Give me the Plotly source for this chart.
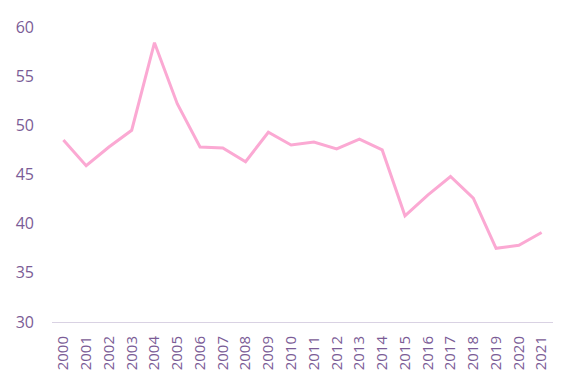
import plotly.graph_objects as go

years = [str(y) for y in range(2000, 2022)]
values = [48.5, 45.9, 47.8, 49.5, 58.4, 52.2, 47.8, 47.7, 46.3, 49.3, 48.0,
          48.3, 47.6, 48.6, 47.5, 40.8, 42.9, 44.8, 42.6, 37.5, 37.8, 39.1]
y_ticks = [30, 35, 40, 45, 50, 55, 60]

label_color = "#7B5C96"

fig = go.Figure(go.Scatter(
    x=years, y=values, mode="lines",
    line=dict(color="#FBA9D3", width=3),
    hoverinfo="x+y",
))

fig.update_layout(
    width=574, height=387,
    margin=dict(l=52, r=21, t=27, b=65, autoexpand=False),
    paper_bgcolor="white", plot_bgcolor="white",
    showlegend=False,
    font=dict(family="Open Sans, Noto Sans, sans-serif", color=label_color),
    xaxis=dict(
        type="category", tickangle=-90, showgrid=False, zeroline=False,
        range=[-0.5, len(years) - 0.5],
        showline=True, linecolor="#D9D2E3", linewidth=1, automargin=False,
        tickfont=dict(size=15, color=label_color), ticks="",
        ticklabelstandoff=7,
    ),
    yaxis=dict(
        range=[30, 60], tickvals=y_ticks, showgrid=False, zeroline=False,
        showline=False, tickfont=dict(size=16, color=label_color), ticks="",
        ticklabelstandoff=17, automargin=False,
    ),
)

fig.write_html(
    "out.html",
    config={"displayModeBar": False},
    post_script="document.body.style.margin='0';document.body.style.padding='0';",
)
